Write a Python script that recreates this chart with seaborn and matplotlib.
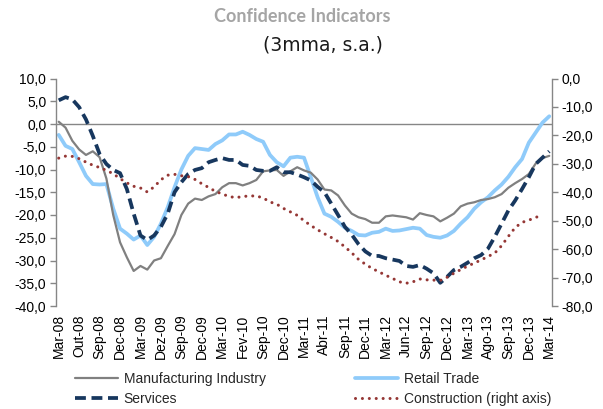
import numpy as np
import pandas as pd
import matplotlib
matplotlib.use("Agg")
import matplotlib.pyplot as plt
import seaborn as sns

tick_labels = ["Mar-08", "Out-08", "Sep-08", "Dec-08", "Mar-09", "Dez-09", "Sep-09",
               "Dec-09", "Mar-10", "Fev-10", "Sep-10", "Dec-10", "Mar-11", "Abr-11",
               "Sep-11", "Dec-11", "Mar-12", "Jun-12", "Sep-12", "Dec-12", "Mar-13",
               "Ago-13", "Sep-13", "Dec-13", "Mar-14"]

manufacturing = [0.5, -0.8, -3.7, -5.6, -6.8, -6.0, -7.3, -12.0, -20.0, -26.0,
                 -29.3, -32.3, -31.2, -32.0, -30.0, -29.5, -26.8, -24.2, -20.0, -17.5,
                 -16.4, -16.7, -15.9, -15.4, -13.9, -13.0, -13.0, -13.5, -13.0, -12.3,
                 -10.4, -10.2, -10.1, -11.4, -10.4, -9.5, -10.2, -10.7, -12.2, -14.4,
                 -14.6, -15.7, -17.9, -19.7, -20.5, -20.9, -21.7, -21.7, -20.3, -20.1,
                 -20.3, -20.5, -21.0, -19.6, -20.0, -20.3, -21.4, -20.6, -19.7, -18.1,
                 -17.5, -17.2, -16.7, -16.5, -16.1, -15.4, -14.0, -13.0, -12.1, -11.0,
                 -8.7, -7.5, -7.0]

retail = [-2.4, -4.8, -5.5, -8.4, -11.4, -13.2, -13.3, -13.2, -18.6, -23.0,
          -24.1, -25.4, -24.5, -26.6, -24.8, -21.9, -18.3, -13.9, -10.0, -7.0,
          -5.3, -5.5, -5.7, -4.4, -3.6, -2.3, -2.3, -1.7, -2.4, -3.3,
          -3.9, -6.8, -8.4, -9.3, -7.4, -7.2, -7.4, -11.7, -16.1, -19.7,
          -20.4, -21.5, -22.8, -23.5, -24.4, -24.5, -23.9, -23.7, -23.0, -23.5,
          -23.4, -23.1, -22.8, -23.0, -24.4, -24.8, -25.0, -24.5, -23.5, -21.9,
          -20.5, -18.6, -17.2, -16.1, -14.6, -13.3, -11.6, -9.5, -7.7, -4.1,
          -1.9, 0.3, 1.7]

services = [5.2, 5.9, 5.4, 3.7, 1.0, -2.6, -6.6, -8.8, -10.1, -10.8,
            -14.3, -19.7, -24.5, -25.5, -24.5, -22.6, -19.7, -15.0, -12.8, -11.0,
            -10.1, -9.7, -8.4, -7.9, -7.5, -7.9, -7.9, -9.0, -9.2, -10.1,
            -10.3, -10.3, -9.5, -10.6, -10.6, -11.1, -11.7, -12.4, -13.8, -15.0,
            -17.5, -20.0, -22.6, -24.3, -26.4, -28.0, -29.0, -29.0, -29.5, -29.8,
            -30.1, -31.2, -31.4, -31.0, -31.8, -32.8, -34.9, -33.6, -32.1, -31.4,
            -30.5, -29.5, -28.8, -27.4, -24.8, -21.9, -19.0, -16.8, -14.3, -11.7,
            -8.8, -7.4, -6.0]

construction = [-28.0, -27.3, -27.4, -28.2, -29.4, -30.5, -31.3, -32.3, -33.5, -35.2,
                -36.7, -37.9, -38.5, -39.9, -38.1, -35.6, -34.0, -33.7, -34.2, -34.5,
                -35.5, -37.0, -38.3, -39.7, -40.6, -41.5, -41.9, -41.5, -41.3, -41.3,
                -42.0, -43.4, -44.2, -45.7, -46.9, -48.1, -50.0, -51.7, -53.2, -54.6,
                -55.9, -57.3, -59.2, -61.3, -63.6, -65.3, -66.8, -68.0, -69.2, -70.3,
                -71.5, -72.0, -71.5, -70.5, -70.8, -70.9, -71.0, -69.9, -68.5, -67.2,
                -66.0, -64.9, -63.8, -62.6, -61.4, -58.8, -55.5, -52.4, -50.6, -49.8,
                -48.9, -47.8, np.nan]

n = len(manufacturing)
df = pd.DataFrame({"t": np.arange(n), "Manufacturing Industry": manufacturing,
                   "Retail Trade": retail, "Services": services,
                   "Construction (right axis)": construction})

sns.set_theme(style="white")
plt.rcParams["font.family"] = ["Liberation Sans", "DejaVu Sans"]

W, H = 603, 409
fig = plt.figure(figsize=(W / 100, H / 100), dpi=100)
L, R, T, B = 56, 552, 78.5, 306
ax = fig.add_axes([L / W, 1 - B / H, (R - L) / W, (B - T) / H])
ax2 = ax.twinx()
ax2.patch.set_alpha(0)

c_man, c_ret, c_ser, c_con = "#808080", "#8FCBFA", "#17375E", "#953735"

sns.lineplot(data=df, x="t", y="Retail Trade", ax=ax, color=c_ret, linewidth=2.7,
             label="Retail Trade", legend=False)
sns.lineplot(data=df, x="t", y="Manufacturing Industry", ax=ax, color=c_man, linewidth=1.6,
             label="Manufacturing Industry", legend=False)
sns.lineplot(data=df, x="t", y="Services", ax=ax, color=c_ser, linewidth=2.7,
             label="Services", legend=False)
sns.lineplot(data=df, x="t", y="Construction (right axis)", ax=ax2, color=c_con,
             linewidth=2.2, label="Construction (right axis)", legend=False)

for ln in ax.get_lines():
    if ln.get_label() == "Services":
        ln.set_dashes((2.9, 1.5))
        ln.set_dash_capstyle("butt")
for ln in ax2.get_lines():
    if ln.get_label() == "Construction (right axis)":
        ln.set_linestyle((0, (0.01, 2.25)))
        ln.set_dash_capstyle("round")

ax.axhline(0, color="#868686", lw=1.0, zorder=1)

ax.set_xlim(-0.4, n - 1 + 0.4)
ax.set_ylim(-40, 10)
ax2.set_ylim(-80, 0)
ax.set_yticks(np.arange(-40, 10.1, 5))
ax2.set_yticks(np.arange(-80, 0.1, 10))
ax.set_yticklabels([f"{v:.1f}".replace(".", ",") for v in np.arange(-40, 10.1, 5)])
ax2.set_yticklabels([f"{v:.1f}".replace(".", ",") for v in np.arange(-80, 0.1, 10)])
ax.set_xticks(np.arange(0, n, 3))
ax.set_xticklabels(tick_labels, rotation=90)

for a in (ax, ax2):
    a.set_xlabel("")
    a.set_ylabel("")
    a.grid(False)
    for s in ("top", "bottom"):
        a.spines[s].set_visible(False)
ax.spines["right"].set_visible(False)
ax2.spines["left"].set_visible(False)
ax.spines["left"].set_color("#868686")
ax2.spines["right"].set_color("#868686")
ax.spines["left"].set_linewidth(1.0)
ax2.spines["right"].set_linewidth(1.0)

ax.tick_params(axis="y", left=True, length=4, width=1, color="#868686", pad=3,
               labelsize=10, labelcolor="black")
ax2.tick_params(axis="y", right=True, length=4, width=1, color="#868686", pad=3,
                labelsize=10, labelcolor="black")
ax.tick_params(axis="x", bottom=False, length=0, pad=6, labelsize=10, labelcolor="black")

fig.text(302 / W, 1 - 17 / H, "Confidence Indicators", ha="center", va="center",
         fontsize=13, fontweight="bold", color="#A5A5A5", family=["Lato", "DejaVu Sans"])
fig.text(323 / W, 1 - 45 / H, "(3mma, s.a.)", ha="center", va="center",
         fontsize=13.5, color="#1a1a1a", family=["DejaVu Sans"])

h1 = {ln.get_label(): ln for ln in ax.get_lines() + ax2.get_lines()}
leg_kw = dict(frameon=False, fontsize=10, handlelength=3.1, handletextpad=0.4,
              borderpad=0, borderaxespad=0, labelspacing=0.45, loc="upper left")
fig.legend([h1["Manufacturing Industry"], h1["Services"]],
           ["Manufacturing Industry", "Services"],
           bbox_to_anchor=(75 / W, 1 - 372 / H), **leg_kw)
fig.legend([h1["Retail Trade"], h1["Construction (right axis)"]],
           ["Retail Trade", "Construction (right axis)"],
           bbox_to_anchor=(355 / W, 1 - 372 / H), **leg_kw)

fig.savefig("out.png", dpi=100)
